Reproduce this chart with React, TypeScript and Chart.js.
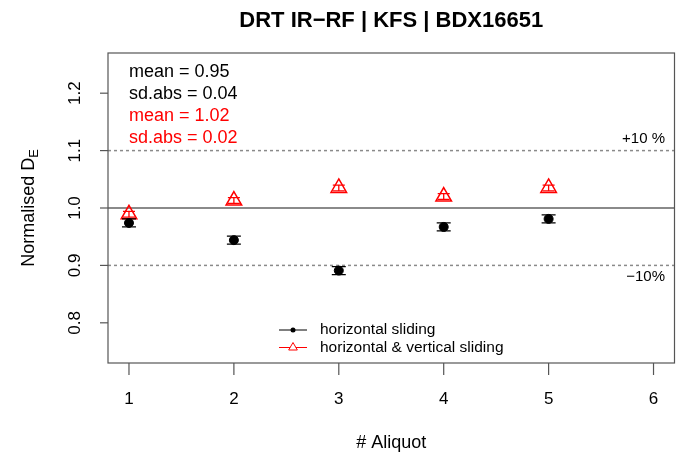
import React, { useEffect, useRef } from 'react';
import { Chart, registerables } from 'chart.js';
Chart.register(...registerables);

// ---- data ----
const aliquots = [1, 2, 3, 4, 5];
const horizontalSliding = [0.974, 0.944, 0.891, 0.967, 0.981];
const horizontalSlidingErr = [0.007, 0.007, 0.007, 0.007, 0.007];
const hvSliding = [0.989, 1.013, 1.035, 1.020, 1.035];
const hvSlidingErr = [0.005, 0.005, 0.005, 0.005, 0.005];
const xTicks = [1, 2, 3, 4, 5, 6];
const yTicks = [0.8, 0.9, 1.0, 1.1, 1.2];
const yTickLabels = ['0.8', '0.9', '1.0', '1.1', '1.2'];
const statsBlack = ['mean = 0.95', 'sd.abs = 0.04'];
const statsRed = ['mean = 1.02', 'sd.abs = 0.02'];
const seriesNames = ['horizontal sliding', 'horizontal & vertical sliding'];
const refValue = 1.0;
const bandValues = [1.1, 0.9];
const bandLabels = ['+10 %', '\u221210%'];
const title = 'DRT IR\u2212RF | KFS | BDX16651';

const FONT = '"Liberation Sans", Arial, Helvetica, sans-serif';
const RED = '#ff0000';

const overlay = {
  id: 'overlay',
  beforeDatasetsDraw(chart: any) {
    const { ctx, chartArea: a, scales } = chart;
    const y = scales.y;
    ctx.save();
    ctx.strokeStyle = '#8a8a8a';
    ctx.lineWidth = 2;
    ctx.beginPath();
    const py = y.getPixelForValue(refValue);
    ctx.moveTo(a.left, py);
    ctx.lineTo(a.right, py);
    ctx.stroke();
    ctx.setLineDash([3, 3]);
    ctx.lineWidth = 1.5;
    bandValues.forEach((v) => {
      const p = y.getPixelForValue(v);
      ctx.beginPath();
      ctx.moveTo(a.left, p);
      ctx.lineTo(a.right, p);
      ctx.stroke();
    });
    ctx.restore();
  },
  afterDatasetsDraw(chart: any) {
    const { ctx, scales } = chart;
    const x = scales.x;
    const y = scales.y;
    ctx.save();
    const drawErr = (vals: number[], errs: number[], color: string, cap: number) => {
      ctx.strokeStyle = color;
      ctx.lineWidth = 1.3;
      vals.forEach((v, i) => {
        const px = x.getPixelForValue(aliquots[i]);
        const top = y.getPixelForValue(v + errs[i]);
        const bot = y.getPixelForValue(v - errs[i]);
        ctx.beginPath();
        ctx.moveTo(px, top);
        ctx.lineTo(px, bot);
        ctx.moveTo(px - cap, top);
        ctx.lineTo(px + cap, top);
        ctx.moveTo(px - cap, bot);
        ctx.lineTo(px + cap, bot);
        ctx.stroke();
      });
    };
    drawErr(horizontalSliding, horizontalSlidingErr, '#000', 7);
    drawErr(hvSliding, hvSlidingErr, RED, 6);
    ctx.restore();
  },
  afterDraw(chart: any) {
    const { ctx, chartArea: a, scales } = chart;
    const x = scales.x;
    const y = scales.y;
    ctx.save();
    ctx.strokeStyle = '#555';
    ctx.lineWidth = 1.2;
    ctx.strokeRect(a.left, a.top, a.right - a.left, a.bottom - a.top);
    ctx.fillStyle = '#000';
    ctx.font = `17px ${FONT}`;
    ctx.textAlign = 'center';
    ctx.textBaseline = 'middle';
    xTicks.forEach((t) => {
      const px = x.getPixelForValue(t);
      ctx.beginPath();
      ctx.moveTo(px, a.bottom);
      ctx.lineTo(px, a.bottom + 12);
      ctx.stroke();
      ctx.fillText(String(t), px, a.bottom + 36);
    });
    yTicks.forEach((t, i) => {
      const py = y.getPixelForValue(t);
      ctx.beginPath();
      ctx.moveTo(a.left, py);
      ctx.lineTo(a.left - 8, py);
      ctx.stroke();
      ctx.save();
      ctx.translate(a.left - 33, py);
      ctx.rotate(-Math.PI / 2);
      ctx.fillText(yTickLabels[i], 0, 0);
      ctx.restore();
    });
    ctx.font = `18px ${FONT}`;
    ctx.fillText('# Aliquot', (a.left + a.right) / 2, a.bottom + 80);
    ctx.save();
    ctx.translate(29, (a.top + a.bottom) / 2);
    ctx.rotate(-Math.PI / 2);
    ctx.font = `18px ${FONT}`;
    const main = 'Normalised D';
    const wMain = ctx.measureText(main).width;
    ctx.font = `13px ${FONT}`;
    const wSub = ctx.measureText('E').width;
    const total = wMain + wSub;
    ctx.textAlign = 'left';
    ctx.font = `18px ${FONT}`;
    ctx.fillText(main, -total / 2, 0);
    ctx.font = `13px ${FONT}`;
    ctx.fillText('E', -total / 2 + wMain, 5);
    ctx.restore();
    ctx.font = `bold 22px ${FONT}`;
    ctx.textAlign = 'center';
    ctx.fillText(title, (a.left + a.right) / 2, 21);
    ctx.font = `18px ${FONT}`;
    ctx.textAlign = 'left';
    const lines = [...statsBlack.map((s) => [s, '#000']), ...statsRed.map((s) => [s, RED])];
    lines.forEach(([s, c], i) => {
      ctx.fillStyle = c;
      ctx.fillText(s, 129, 72.5 + i * 21.8);
    });
    ctx.fillStyle = '#000';
    ctx.font = `15px ${FONT}`;
    ctx.textAlign = 'right';
    ctx.fillText(bandLabels[0], 665, y.getPixelForValue(bandValues[0]) - 11.5);
    ctx.fillText(bandLabels[1], 665, y.getPixelForValue(bandValues[1]) + 11.5);
    ctx.font = `15.5px ${FONT}`;
    ctx.textAlign = 'left';
    const lx0 = 279, lx1 = 307, ly = [330, 347.5];
    ctx.strokeStyle = '#000';
    ctx.lineWidth = 1;
    ctx.beginPath();
    ctx.moveTo(lx0, ly[0]);
    ctx.lineTo(lx1, ly[0]);
    ctx.stroke();
    ctx.fillStyle = '#000';
    ctx.beginPath();
    ctx.arc((lx0 + lx1) / 2, ly[0], 2.5, 0, Math.PI * 2);
    ctx.fill();
    ctx.fillText(seriesNames[0], 320, ly[0]);
    ctx.strokeStyle = RED;
    ctx.beginPath();
    ctx.moveTo(lx0, ly[1]);
    ctx.lineTo(lx1, ly[1]);
    ctx.stroke();
    const cx = (lx0 + lx1) / 2, r = 5;
    ctx.beginPath();
    ctx.moveTo(cx, ly[1] - r);
    ctx.lineTo(cx + r * 0.866, ly[1] + r / 2);
    ctx.lineTo(cx - r * 0.866, ly[1] + r / 2);
    ctx.closePath();
    ctx.fillStyle = '#fff';
    ctx.fill();
    ctx.stroke();
    ctx.fillStyle = '#000';
    ctx.fillText(seriesNames[1], 320, ly[1]);
    ctx.restore();
  },
};

export default function App() {
  const ref = useRef<HTMLCanvasElement | null>(null);
  useEffect(() => {
    if (!ref.current) return;
    const chart = new Chart(ref.current, {
      type: 'scatter',
      data: {
        datasets: [
          {
            label: seriesNames[0],
            data: aliquots.map((a, i) => ({ x: a, y: horizontalSliding[i] })),
            pointStyle: 'circle',
            pointRadius: 4.5,
            backgroundColor: '#000',
            borderColor: '#000',
            borderWidth: 1,
          },
          {
            label: seriesNames[1],
            data: aliquots.map((a, i) => ({ x: a, y: hvSliding[i] })),
            pointStyle: 'triangle',
            pointRadius: 9,
            backgroundColor: 'rgba(0,0,0,0)',
            borderColor: RED,
            borderWidth: 1.5,
          },
        ],
      },
      options: {
        animation: false,
        responsive: false,
        layout: { padding: { left: 108, right: 9, top: 53, bottom: 89 } },
        plugins: { legend: { display: false }, tooltip: { enabled: false }, title: { display: false } },
        scales: {
          x: { type: 'linear', min: 0.8, max: 6.2, display: false },
          y: { type: 'linear', min: 0.73, max: 1.27, display: false },
        },
      },
      plugins: [overlay],
    });
    return () => chart.destroy();
  }, []);
  return (
    <div style={{ position: 'absolute', left: 0, top: 0, width: 685, height: 452, background: '#fff' }}>
      <canvas ref={ref} width={685} height={452} style={{ display: 'block' }} />
    </div>
  );
}
